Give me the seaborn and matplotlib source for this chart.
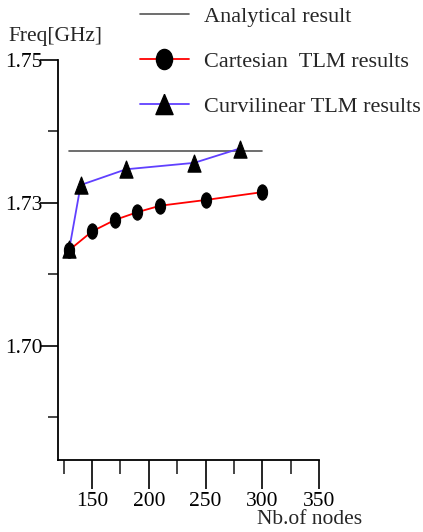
import numpy as np
import pandas as pd
import matplotlib
matplotlib.use('Agg')
import matplotlib.pyplot as plt
import seaborn as sns
from matplotlib.path import Path
from matplotlib.transforms import Affine2D
from matplotlib.lines import Line2D

# data
cart_nodes = [130, 150, 170, 190, 210, 250, 300]
cart_freq = [1.7234, 1.7260, 1.7276, 1.7287, 1.7296, 1.7304, 1.7315]
curv_nodes = [130, 140, 180, 240, 280]
curv_freq = [1.7236, 1.7325, 1.7347, 1.7356, 1.7376]
anal_nodes = [130, 300]
anal_freq = [1.7372, 1.7372]

# ticks as printed on the original (labels are not evenly spaced there)
y_major = [1.75, 1.73, 1.71]
y_major_labels = ['1.75', '1.73', '1.70']
y_minor = [1.74, 1.72, 1.70]
x_major = [150, 200, 250, 300, 350]
x_minor = [125, 175, 225, 275, 325]

cart = pd.DataFrame({'nodes': cart_nodes, 'freq': cart_freq})
curv = pd.DataFrame({'nodes': curv_nodes, 'freq': curv_freq})
anal = pd.DataFrame({'nodes': anal_nodes, 'freq': anal_freq})

sns.set_style('ticks')
plt.rcParams['font.family'] = ['Liberation Serif', 'DejaVu Serif']
plt.rcParams['font.size'] = 16

ellipse = Path.unit_circle().transformed(Affine2D().scale(0.67, 1.0))
ellipse_leg = Path.unit_circle().transformed(Affine2D().scale(0.8, 1.0))
tri = Path([(0, 1), (-0.76, -1), (0.76, -1), (0, 1)])
tri_leg = Path([(0, 1), (-0.85, -1), (0.85, -1), (0, 1)])

fig = plt.figure(figsize=(4.23, 5.32), dpi=100)
ax = fig.add_axes([58 / 423, 1 - 460 / 532, (319 - 58) / 423, (460 - 60) / 532])

sns.lineplot(data=anal, x='nodes', y='freq', ax=ax, color='#555555', lw=1.2)
sns.lineplot(data=cart, x='nodes', y='freq', ax=ax, color='#ff0000', lw=1.3,
             marker=ellipse, markersize=11, markerfacecolor='black',
             markeredgecolor='black')
sns.lineplot(data=curv, x='nodes', y='freq', ax=ax, color='#6040ff', lw=1.3,
             marker=tri, markersize=12.5, markerfacecolor='black',
             markeredgecolor='black')

ax.set_xlim(120, 350)
ax.set_ylim(1.6940, 1.75)
ax.set_xlabel('')
ax.set_ylabel('')
sns.despine(ax=ax)
for s in ['left', 'bottom']:
    ax.spines[s].set_linewidth(1.3)
    ax.spines[s].set_color('black')

ax.set_xticks(x_major)
ax.set_xticks(x_minor, minor=True)
ax.set_yticks(y_major)
ax.set_yticklabels(y_major_labels)
ax.set_yticks(y_minor, minor=True)
ax.tick_params(axis='x', which='major', direction='out', length=21, width=1.2,
               pad=2, labelsize=15.5, colors='black')
ax.tick_params(axis='x', which='minor', direction='out', length=10, width=1.2)
ax.tick_params(axis='y', which='major', direction='out', length=13, width=1.2,
               pad=-2, labelsize=15.5, colors='black')
ax.tick_params(axis='y', which='minor', direction='out', length=7, width=1.2)

fig.text(8 / 423, 1 - 37 / 532, 'Freq[GHz]', fontsize=15.5, va='center', ha='left')
fig.text(310 / 423, 1 - 520 / 532, 'Nb.of nodes', fontsize=15.5, va='center', ha='center')

handles = [
    Line2D([], [], color='#555555', lw=1.2),
    Line2D([], [], color='#ff0000', lw=1.3, marker=ellipse_leg, markersize=14.5,
           markerfacecolor='black', markeredgecolor='black'),
    Line2D([], [], color='#6040ff', lw=1.3, marker=tri_leg, markersize=14.5,
           markerfacecolor='black', markeredgecolor='black'),
]
labels = ['Analytical result', 'Cartesian  TLM results', 'Curvilinear TLM results']
fig.legend(handles, labels, loc='upper left', bbox_to_anchor=(140 / 423, 1 - 6 / 532),
           frameon=False, borderpad=0, handlelength=2.2, handletextpad=0.7,
           labelspacing=1.1, fontsize=16, borderaxespad=0)

fig.savefig('out.png', dpi=100)
